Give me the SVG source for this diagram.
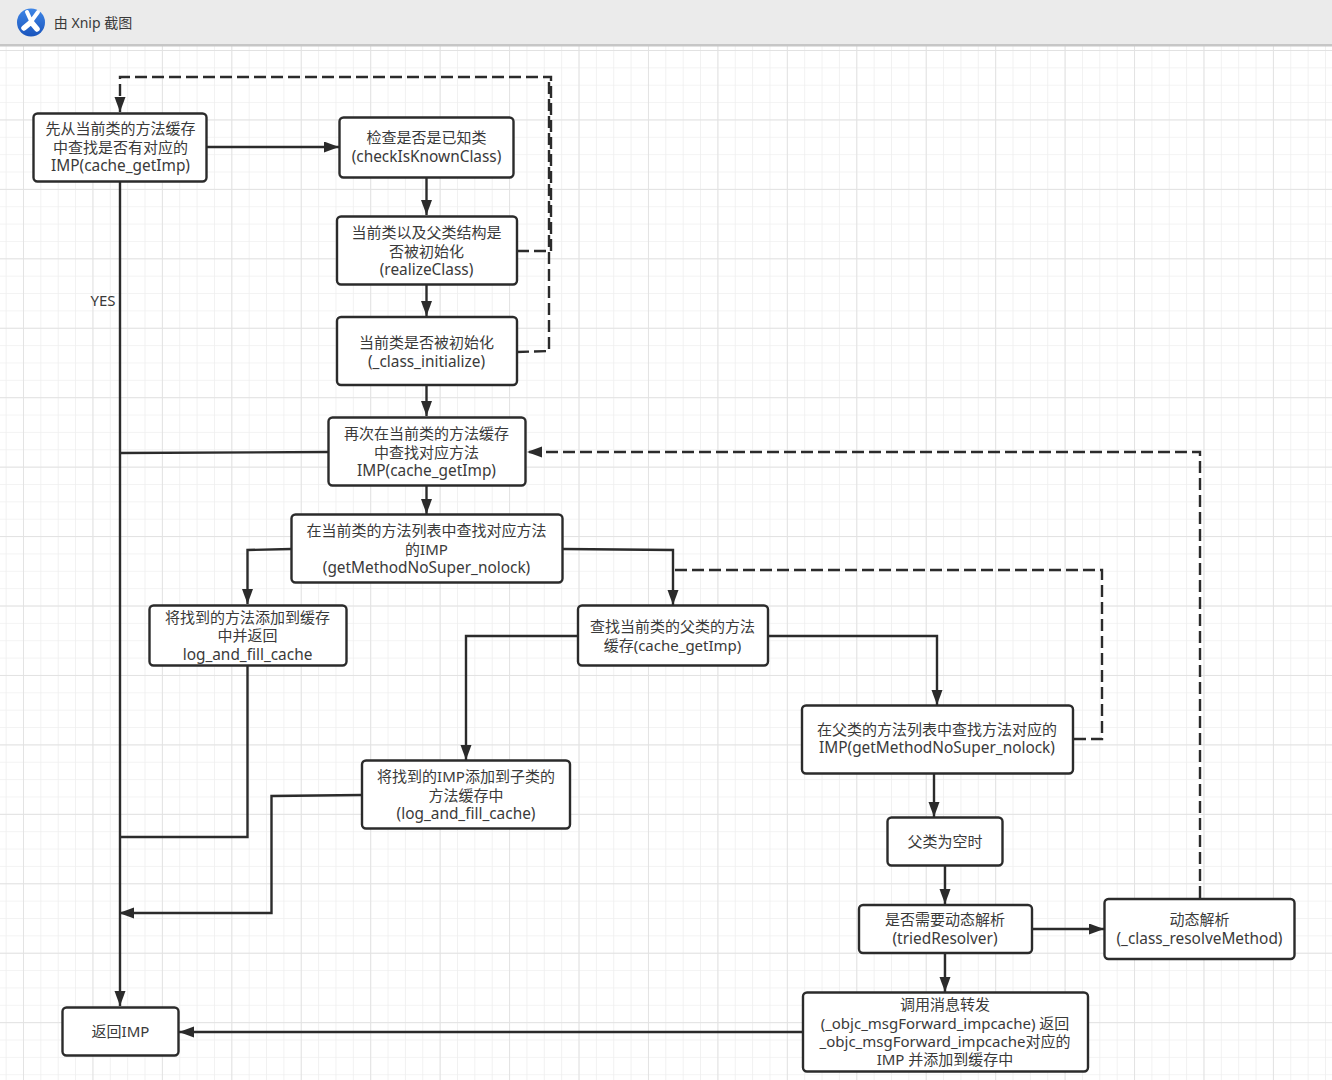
<svg xmlns="http://www.w3.org/2000/svg" width="1332" height="1080" viewBox="0 0 1332 1080">
<style>
.n{fill:#fff;stroke:#2b2b2b;stroke-width:2.4}
.c{fill:none;stroke:#2b2b2b;stroke-width:2.4}
.d{stroke-dasharray:12 5}
text{font-family:"Noto Sans","Noto Sans CJK SC",sans-serif;font-size:15px;fill:#3a3a3a;text-anchor:middle}
.l{font-size:15.4px}
</style>
<defs>
<pattern id="g1" width="17.36" height="17.36" patternUnits="userSpaceOnUse" x="5.64" y="50"><path d="M0 0V17.36M0 0H17.36" fill="none" stroke="#efefef" stroke-width="1.6"/></pattern>
<pattern id="g2" width="69.44" height="69.44" patternUnits="userSpaceOnUse" x="23" y="50"><path d="M0 0V69.44M0 0H69.44" fill="none" stroke="#e2e2e2" stroke-width="1.8"/></pattern>
<marker id="a" markerUnits="userSpaceOnUse" markerWidth="16" markerHeight="12" refX="15" refY="5.500" orient="auto"><path d="M0 0L15 5.500L0 11Z" fill="#2b2b2b"/></marker>
<linearGradient id="logo" x1="0" y1="0" x2="0" y2="1"><stop offset="0" stop-color="#3f86e6"/><stop offset="1" stop-color="#1a55bd"/></linearGradient>
</defs>
<rect width="1332" height="1080" fill="#fff"/>
<rect y="46" width="1332" height="1034" fill="url(#g1)"/>
<rect y="46" width="1332" height="1034" fill="url(#g2)"/>
<g id="titlebar">
<rect width="1332" height="44" fill="#ebebeb"/>
<rect y="44" width="1332" height="2.500" fill="#c6c6c6"/>
<circle cx="31" cy="22.500" r="14" fill="url(#logo)"/>
<path d="M27 12L32 23M38 12L30 23" stroke="#fff" stroke-width="4" stroke-linecap="round" fill="none"/>
<path d="M30 23L24 28M32 23L37 29" stroke="#fff" stroke-width="5.500" stroke-linecap="round" fill="none"/>
<text x="93" y="28" style="font-size:14px">由 Xnip 截图</text>
</g>
<g id="connectors">
<path class="c" d="M207 147H339" marker-end="url(#a)"/>
<path class="c" d="M426.500 177V215" marker-end="url(#a)"/>
<path class="c" d="M426.500 285V316" marker-end="url(#a)"/>
<path class="c" d="M426.500 385V416" marker-end="url(#a)"/>
<path class="c" d="M426.500 486V514" marker-end="url(#a)"/>
<path class="c" d="M120 182V1006" marker-end="url(#a)"/>
<path class="c" d="M328 452L120 453"/>
<path class="c d" d="M517 251H551V77H120V112" marker-end="url(#a)"/>
<path class="c d" d="M517 352L549 351V77"/>
<path class="c" d="M291 549L247.500 550V604" marker-end="url(#a)"/>
<path class="c" d="M563 549L673 550V605" marker-end="url(#a)"/>
<path class="c" d="M247.500 666V837H120"/>
<path class="c" d="M578 636H466V760" marker-end="url(#a)"/>
<path class="c" d="M768 636H937V705" marker-end="url(#a)"/>
<path class="c d" d="M1074 739H1102V570H673"/>
<path class="c" d="M362 795L271.500 796V913H119" marker-end="url(#a)"/>
<path class="c" d="M934 773V817" marker-end="url(#a)"/>
<path class="c" d="M945 866V904" marker-end="url(#a)"/>
<path class="c" d="M1032 929H1104" marker-end="url(#a)"/>
<path class="c" d="M945 953V992" marker-end="url(#a)"/>
<path class="c" d="M802 1032H179" marker-end="url(#a)"/>
<path class="c d" d="M1200 898V452H527" marker-end="url(#a)"/>
<text x="103" y="306">YES</text>
</g>
<g id="n1"><rect class="n" x="33.500" y="113.500" width="173" height="68" rx="4"/><text x="120.500" y="134">先从当前类的方法缓存</text><text x="120.500" y="153">中查找是否有对应的</text><text class="l" x="120.500" y="171">IMP(cache_getImp)</text></g>
<g id="n2"><rect class="n" x="339.500" y="117.500" width="174" height="60" rx="4"/><text x="426.500" y="143">检查是否是已知类</text><text class="l" x="426.500" y="162">(checkIsKnownClass)</text></g>
<g id="n3"><rect class="n" x="337" y="216.500" width="180" height="68" rx="4"/><text x="426.500" y="238">当前类以及父类结构是</text><text x="426.500" y="257">否被初始化</text><text class="l" x="426.500" y="275">(realizeClass)</text></g>
<g id="n4"><rect class="n" x="337" y="317" width="180" height="68" rx="4"/><text x="426.500" y="348">当前类是否被初始化</text><text class="l" x="426.500" y="367">(_class_initialize)</text></g>
<g id="n5"><rect class="n" x="328.500" y="417.500" width="197" height="68" rx="4"/><text x="426.500" y="439">再次在当前类的方法缓存</text><text x="426.500" y="458">中查找对应方法</text><text class="l" x="426.500" y="476">IMP(cache_getImp)</text></g>
<g id="n6"><rect class="n" x="291.500" y="514.500" width="271" height="68" rx="4"/><text x="426.500" y="536">在当前类的方法列表中查找对应方法</text><text x="426.500" y="555">的IMP</text><text class="l" x="426.500" y="573">(getMethodNoSuper_nolock)</text></g>
<g id="n7"><rect class="n" x="149.500" y="605.500" width="197" height="60" rx="4"/><text x="247.500" y="623">将找到的方法添加到缓存</text><text x="247.500" y="641">中并返回</text><text class="l" x="247.500" y="660">log_and_fill_cache</text></g>
<g id="n8"><rect class="n" x="578" y="605.500" width="190" height="60" rx="4"/><text x="672.500" y="632">查找当前类的父类的方法</text><text x="672.500" y="651">缓存(cache_getImp)</text></g>
<g id="n9"><rect class="n" x="802" y="705.500" width="271" height="68" rx="4"/><text x="937" y="735">在父类的方法列表中查找方法对应的</text><text class="l" x="937" y="753">IMP(getMethodNoSuper_nolock)</text></g>
<g id="n10"><rect class="n" x="362" y="760.500" width="208" height="68" rx="4"/><text x="466" y="782">将找到的IMP添加到子类的</text><text x="466" y="801">方法缓存中</text><text class="l" x="466" y="819">(log_and_fill_cache)</text></g>
<g id="n11"><rect class="n" x="887.500" y="817.500" width="115" height="48" rx="4"/><text x="945" y="847">父类为空时</text></g>
<g id="n12"><rect class="n" x="859" y="905" width="173" height="48" rx="4"/><text x="945" y="925">是否需要动态解析</text><text class="l" x="945" y="944">(triedResolver)</text></g>
<g id="n13"><rect class="n" x="1104.500" y="899" width="190" height="60" rx="4"/><text x="1199.500" y="925">动态解析</text><text class="l" x="1199.500" y="944">(_class_resolveMethod)</text></g>
<g id="n14"><rect class="n" x="803" y="992.500" width="285" height="79" rx="4"/><text x="945" y="1010">调用消息转发</text><text x="945" y="1029">(_objc_msgForward_impcache) 返回</text><text x="945" y="1047">_objc_msgForward_impcache对应的</text><text x="945" y="1065">IMP 并添加到缓存中</text></g>
<g id="n15"><rect class="n" x="62.500" y="1007.500" width="116" height="48" rx="4"/><text x="120.500" y="1037">返回IMP</text></g>
</svg>
